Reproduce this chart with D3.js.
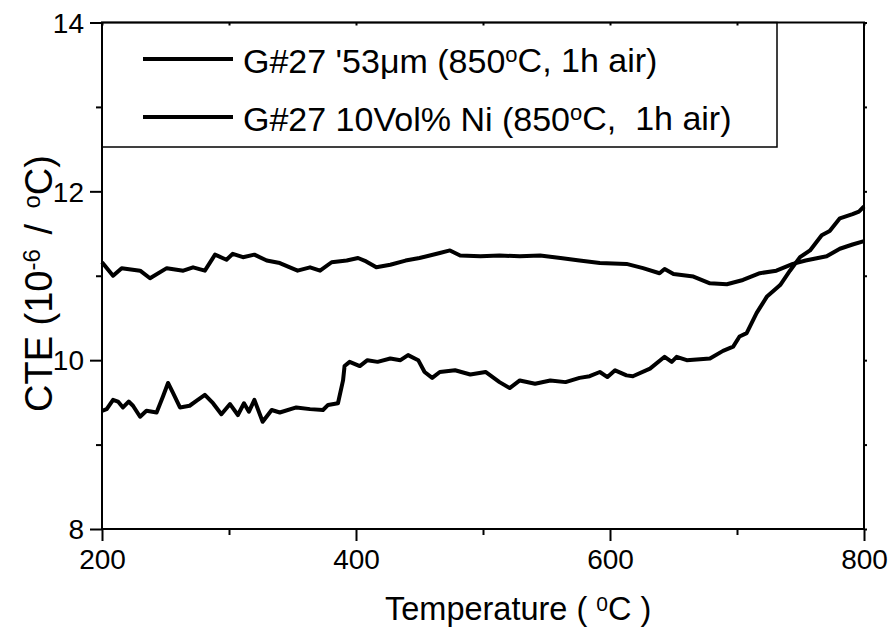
<!DOCTYPE html>
<html>
<head>
<meta charset="utf-8">
<script src="https://cdn.jsdelivr.net/npm/d3@7"></script>
<style>
  body { margin:0; background:#fff; }
  text { font-family: "Liberation Sans", Arial, sans-serif; fill:#000; }
</style>
</head>
<body>
<svg id="chart" width="892" height="627"></svg>
<script>
// series: [temperature, CTE]
var seriesNi = [
  [200,11.16],[208.7,11.0],[215.5,11.09],[230,11.06],[237.8,10.97],[251,11.09],[264,11.06],
  [271.7,11.10],[281,11.06],[289,11.25],[298,11.19],[303,11.26],[311,11.22],[320,11.25],
  [329.7,11.18],[340,11.15],[354,11.06],[363.8,11.1],[371.7,11.06],[380.8,11.16],[392.7,11.18],
  [401.6,11.21],[408,11.17],[416,11.10],[427,11.13],[439,11.18],[450,11.21],[466,11.27],
  [474,11.30],[482,11.24],[498,11.23],[513,11.24],[529,11.23],[545,11.24],[561,11.21],
  [576,11.18],[592,11.15],[613,11.14],[626,11.09],[639,11.03],[643,11.08],[650,11.02],
  [665.7,10.99],[678.7,10.91],[692,10.90],[704.7,10.95],[718,11.03],[731,11.06],[744,11.14],
  [754,11.18],[770.6,11.23],[781,11.32],[791,11.37],[800,11.41]
];
var series53 = [
  [200,9.40],[203.7,9.42],[208.7,9.53],[212.6,9.51],[216.5,9.44],[221,9.51],[224.4,9.46],
  [230,9.33],[235,9.40],[243,9.38],[248,9.57],[252,9.73],[256,9.61],[261.4,9.44],[269,9.46],
  [274.6,9.52],[281,9.59],[287.4,9.49],[294,9.36],[300.8,9.48],[307,9.35],[311.8,9.49],
  [315.7,9.39],[320,9.53],[326.5,9.27],[333.6,9.41],[340,9.38],[353,9.44],[363.8,9.42],
  [374,9.41],[378,9.47],[385.8,9.49],[389.8,9.76],[391,9.93],[395,9.98],[403,9.93],[409,10.0],
  [417,9.98],[427,10.02],[435,10.0],[441,10.06],[449,10.0],[454,9.86],[460,9.79],[466,9.86],
  [478,9.88],[490,9.83],[502,9.86],[513,9.74],[521,9.67],[529,9.76],[541,9.72],[553,9.76],
  [565,9.74],[576,9.79],[584,9.81],[592,9.86],[598,9.80],[604,9.88],[613,9.82],[618,9.81],
  [631.5,9.90],[643,10.04],[648.6,9.98],[652.5,10.04],[660.4,10.0],[670.9,10.01],[678.7,10.02],
  [689,10.11],[697,10.16],[702,10.28],[707.6,10.32],[715.5,10.56],[723.4,10.75],[734,10.89],
  [741.7,11.06],[749.6,11.22],[757.5,11.30],[766.7,11.48],[773,11.53],[781,11.68],[791,11.73],
  [796,11.76],[800,11.82]
];
var xMajor = [200,400,600,800];
var xMinor = [300,500,700];
var yMajor = [8,10,12,14];
var yMinor = [9,11,13];
var legendNames = [
  ["G#27 '53\u03bcm (850", "o", "C, 1h air)"],
  ["G#27 10Vol% Ni (850", "o", "C,\u00a0 1h air)"]
];

var svg = d3.select("#chart");
var L = 102, R = 864, T = 22.5, B = 529;
var x = d3.scaleLinear().domain([200,800]).range([L,R]);
var y = d3.scaleLinear().domain([8,14]).range([B,T]);

// data lines
var line = d3.line().x(function(d){ return x(d[0]); }).y(function(d){ return y(d[1]); });
svg.selectAll("path.series").data([series53, seriesNi]).enter()
   .append("path").attr("class","series")
   .attr("d", line)
   .attr("fill","none").attr("stroke","#000")
   .attr("stroke-width",4).attr("stroke-linejoin","round");

// axes (bottom / left with labels, top / right plain)
var axB = svg.append("g").attr("transform","translate(0,"+B+")")
   .call(d3.axisBottom(x).tickValues(xMajor).tickSize(12).tickPadding(8).tickFormat(d3.format("d")));
var axBm = svg.append("g").attr("transform","translate(0,"+B+")")
   .call(d3.axisBottom(x).tickValues(xMinor).tickSize(6).tickFormat(""));
var axL = svg.append("g").attr("transform","translate("+L+",0)")
   .call(d3.axisLeft(y).tickValues(yMajor).tickSize(12).tickPadding(6).tickFormat(d3.format("d")));
var axLm = svg.append("g").attr("transform","translate("+L+",0)")
   .call(d3.axisLeft(y).tickValues(yMinor).tickSize(6).tickFormat(""));
var axT = svg.append("g").attr("transform","translate(0,"+T+")")
   .call(d3.axisBottom(x).tickValues(xMajor.concat(xMinor)).tickSize(3).tickFormat(""));
var axR = svg.append("g").attr("transform","translate("+R+",0)")
   .call(d3.axisRight(y).tickValues(yMajor.concat(yMinor)).tickSize(3).tickFormat(""));

[axB,axBm,axL,axLm,axT,axR].forEach(function(g){
  g.select(".domain").remove();
  g.selectAll(".tick line").attr("stroke","#000").attr("stroke-width",2);
  g.selectAll(".tick text").style("font-size","28px").attr("fill","#000");
});
axL.selectAll(".tick text").attr("dy","0.35em");

// frame
svg.append("rect").attr("x",L).attr("y",T).attr("width",R-L).attr("height",B-T)
   .attr("fill","none").attr("stroke","#000").attr("stroke-width",2);

// legend
var lgR = 777, lgB = 147;
svg.append("rect").attr("x",L).attr("y",T).attr("width",lgR-L).attr("height",lgB-T)
   .attr("fill","none").attr("stroke","#000").attr("stroke-width",1.5);
var lg = svg.selectAll("g.lg").data(legendNames).enter().append("g").attr("class","lg")
   .attr("transform", function(d,i){ return "translate(0,"+(59 + i*58)+")"; });
lg.append("line").attr("x1",143).attr("x2",233).attr("y1",0).attr("y2",0)
   .attr("stroke","#000").attr("stroke-width",4);
var lt = lg.append("text").attr("x",243).attr("y",13.5).style("font-size","34px");
lt.append("tspan").text(function(d){ return d[0]; });
lt.append("tspan").attr("dy","-0.5em").style("font-size","22px").text(function(d){ return d[1]; });
lt.append("tspan").attr("dy","0.32em").text(function(d){ return d[2]; });

// axis titles
var xt = svg.append("text").attr("x",385).attr("y",620).style("font-size","32.5px");
xt.append("tspan").text("Temperature ( ");
xt.append("tspan").attr("dy","-0.45em").style("font-size","21px").text("0");
xt.append("tspan").attr("dy","0.29em").text("C )");

var yt = svg.append("text").attr("transform","translate(52,"+412+") rotate(-90)")
   .style("font-size","38px");
yt.append("tspan").text("CTE (10");
yt.append("tspan").attr("dy","-0.5em").style("font-size","24px").text("-6");
yt.append("tspan").attr("dy","0.32em").attr("dx",4).text(" / ");
yt.append("tspan").attr("dy","-0.5em").attr("dx",5).style("font-size","24px").text("o");
yt.append("tspan").attr("dy","0.32em").text("C)");
</script>
</body>
</html>
